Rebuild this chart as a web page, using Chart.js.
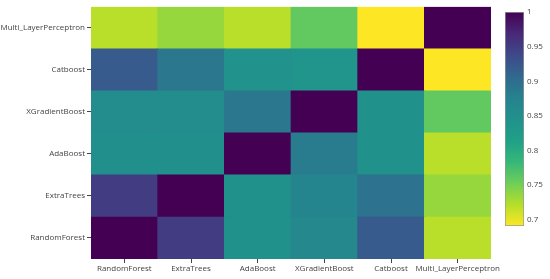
<!DOCTYPE html>
<html>
<head>
<meta charset="utf-8">
<script src="https://cdn.jsdelivr.net/npm/chart.js@4"></script>
<style>
    body { margin: 0; background: #fff; }
    #wrap { position: relative; width: 550px; height: 279px; }
    #heat { position: absolute; left: 0; top: 0; }
    #bar { position: absolute; left: 495px; top: 0; }
</style>
</head>
<body>
<div id="wrap">
    <canvas id="heat" width="550" height="279"></canvas>
    <canvas id="bar" width="55" height="279"></canvas>
</div>
<script>
// models, same order on both axes (y goes bottom -> top)
const models = ["RandomForest", "ExtraTrees", "AdaBoost", "XGradientBoost", "Catboost", "Multi_LayerPerceptron"];

// one row per y category, values along x
const rowRandomForest = [1, 0.95, 0.845, 0.865, 0.92, 0.72];
const rowExtraTrees = [0.95, 1, 0.845, 0.87, 0.895, 0.735];
const rowAdaBoost = [0.848, 0.848, 1, 0.885, 0.845, 0.72];
const rowXGradientBoost = [0.855, 0.855, 0.89, 1, 0.845, 0.76];
const rowCatboost = [0.92, 0.89, 0.843, 0.84, 1, 0.691];
const rowMLP = [0.72, 0.735, 0.72, 0.76, 0.691, 1];

const colorTicks = [0.7, 0.75, 0.8, 0.85, 0.9, 0.95, 1];

const rows = [rowRandomForest, rowExtraTrees, rowAdaBoost, rowXGradientBoost, rowCatboost, rowMLP];
const zMin = Math.min(...rows.flat());
const zMax = Math.max(...rows.flat());

// viridis, dark -> yellow
const viridis = ["#440154", "#482878", "#3e4989", "#31688e", "#26828e", "#21918c",
                 "#1fa088", "#35b779", "#6ece58", "#b5de2b", "#fde725"];

function hexRgb(h) {
    return [parseInt(h.slice(1, 3), 16), parseInt(h.slice(3, 5), 16), parseInt(h.slice(5, 7), 16)];
}

// high values dark purple, low values yellow
function colorFor(v) {
    let t = (zMax - v) / (zMax - zMin);
    t = Math.max(0, Math.min(1, t)) * (viridis.length - 1);
    const i = Math.min(Math.floor(t), viridis.length - 2);
    const f = t - i;
    const a = hexRgb(viridis[i]), b = hexRgb(viridis[i + 1]);
    const c = a.map((x, k) => Math.round(x + (b[k] - x) * f));
    return `rgb(${c[0]},${c[1]},${c[2]})`;
}

const fontTick = { family: "'Open Sans', 'DejaVu Sans', sans-serif", size: 8 };

new Chart(document.getElementById("heat"), {
    type: "bar",
    data: {
        labels: models,
        datasets: rows.map((row, r) => ({
            label: models[r],
            data: row.map(() => [r, r + 1]),
            backgroundColor: row.map(colorFor),
            borderWidth: 0,
            borderSkipped: false,
            barPercentage: 1,
            categoryPercentage: 1,
            grouped: false
        }))
    },
    options: {
        responsive: false,
        animation: false,
        devicePixelRatio: 1,
        layout: { padding: { top: 5, right: 59, left: 0, bottom: 0 } },
        plugins: { legend: { display: false }, tooltip: { enabled: false } },
        scales: {
            x: {
                grid: { offset: false, drawOnChartArea: false, tickLength: 4, color: "#444" },
                border: { display: false },
                ticks: { color: "#444", font: fontTick, padding: 1, maxRotation: 0, autoSkip: false },
                afterFit: s => { s.height = 20; }
            },
            y: {
                min: 0,
                max: models.length,
                grid: { drawOnChartArea: false, tickLength: 4, color: "#444" },
                border: { display: false },
                afterBuildTicks: s => { s.ticks = models.map((m, i) => ({ value: i + 0.5 })); },
                ticks: {
                    color: "#444", font: fontTick, padding: 2,
                    callback: (v) => models[Math.floor(v)]
                },
                afterFit: s => { s.width = 91; }
            }
        }
    }
});

// colour bar
new Chart(document.getElementById("bar"), {
    type: "bar",
    data: {
        labels: [""],
        datasets: [{
            data: [[zMin, zMax]],
            backgroundColor: (ctx) => {
                const ch = ctx.chart;
                if (!ch.chartArea) return "#21918c";
                const y = ch.scales.y;
                const g = ch.ctx.createLinearGradient(0, y.getPixelForValue(zMax), 0, y.getPixelForValue(zMin));
                viridis.forEach((c, i) => g.addColorStop(i / (viridis.length - 1), c));
                return g;
            },
            borderColor: "#999",
            borderWidth: 1,
            borderSkipped: false,
            barPercentage: 1,
            categoryPercentage: 1
        }]
    },
    options: {
        responsive: false,
        animation: false,
        devicePixelRatio: 1,
        layout: { padding: { top: 12, left: 10, bottom: 53, right: 0 } },
        plugins: { legend: { display: false }, tooltip: { enabled: false } },
        scales: {
            x: { display: false },
            y: {
                position: "right",
                min: zMin,
                max: zMax,
                grid: { display: false, drawTicks: false },
                border: { display: false },
                afterBuildTicks: s => { s.ticks = colorTicks.map(v => ({ value: v })); },
                ticks: { color: "#444", font: fontTick, padding: 3, callback: v => String(v) },
                afterFit: s => { s.width = 26; }
            }
        }
    }
});
</script>
</body>
</html>
